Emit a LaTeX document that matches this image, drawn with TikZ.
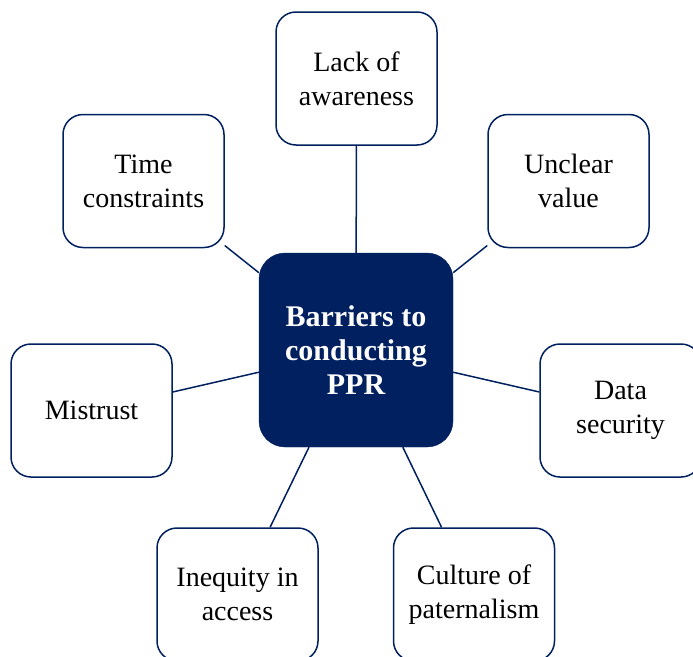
\documentclass[tikz,border=0pt]{standalone}
\usepackage{fontspec}
\setmainfont{Liberation Serif}
\definecolor{navy}{HTML}{00205F}
\begin{document}
\begin{tikzpicture}[x=1pt,y=-1pt,
  leaf/.style={draw=navy, line width=1.5pt, fill=white, rounded corners=20pt,
    minimum width=161pt, minimum height=133pt, align=center,
    font=\fontsize{28}{34}\selectfont, text=black, inner sep=0pt},
  hub/.style={draw=navy, fill=navy, rounded corners=26pt,
    minimum width=194pt, minimum height=194pt, align=center,
    font=\fontsize{30}{34}\selectfont\bfseries, text=white, inner sep=0pt},
  link/.style={draw=navy, line width=1.5pt}]
\useasboundingbox (0,0) rectangle (693,656);
\clip (0,0) rectangle (693,656);
\node[hub] (c) at (356,350) {Barriers to\\conducting\\PPR};
\node[leaf] (aw) at (356.5,78.5) {Lack of\\awareness};
\node[leaf] (tc) at (143.5,181) {Time\\constraints};
\node[leaf] (uv) at (568.5,181) {Unclear\\value};
\node[leaf] (mi) at (91.5,410.5) {Mistrust};
\node[leaf] (ds) at (620.5,410.5) {Data\\security};
\node[leaf] (ia) at (237.5,594.5) {Inequity in\\access};
\node[leaf] (cp) at (474,594.5) {Culture of\\paternalism};
\foreach \n in {aw,tc,uv,mi,ds,ia,cp} \draw[link] (c) -- (\n);
\end{tikzpicture}
\end{document}
